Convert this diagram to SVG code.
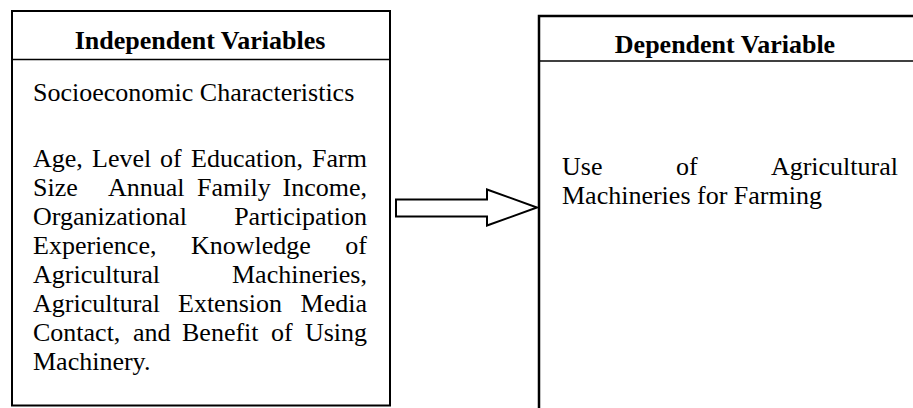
<svg xmlns="http://www.w3.org/2000/svg" width="913" height="408" viewBox="0 0 913 408">
<style>
.box{fill:#fff;stroke:#000;stroke-width:2}
.div{stroke:#000;stroke-width:1.3}
.t{font-family:"Liberation Serif","Times New Roman",serif;font-size:26px;fill:#000}
.h{font-weight:bold;text-anchor:middle}
.e{text-anchor:end}
.arrow{fill:#fff;stroke:#000;stroke-width:2;stroke-linejoin:miter}
</style>
<rect width="913" height="408" fill="#fff"/>
<g id="independent">
<rect class="box" x="12" y="11" width="378" height="394.5"/>
<line class="div" x1="12" y1="59.5" x2="390" y2="59.5"/>
<text class="t h" x="200" y="49">Independent Variables</text>
<text class="t" x="33" y="101">Socioeconomic Characteristics</text>
<text class="t" y="167"><tspan x="33">Age,</tspan><tspan x="92">Level</tspan><tspan x="160">of</tspan><tspan x="191">Education,</tspan></text>
<text class="t e" x="367" y="167">Farm</text>
<text class="t" y="196"><tspan x="33">Size</tspan><tspan x="108">Annual</tspan><tspan x="197">Family</tspan></text>
<text class="t e" x="367" y="196">Income,</text>
<text class="t" x="33" y="225">Organizational</text>
<text class="t e" x="367" y="225">Participation</text>
<text class="t" y="254"><tspan x="33">Experience,</tspan><tspan x="191">Knowledge</tspan></text>
<text class="t e" x="367" y="254">of</text>
<text class="t" x="33" y="283">Agricultural</text>
<text class="t e" x="367" y="283">Machineries,</text>
<text class="t" y="312"><tspan x="33">Agricultural</tspan><tspan x="178">Extension</tspan></text>
<text class="t e" x="367" y="312">Media</text>
<text class="t" y="341"><tspan x="33">Contact,</tspan><tspan x="133">and</tspan><tspan x="182">Benefit</tspan><tspan x="271">of</tspan></text>
<text class="t e" x="367" y="341">Using</text>
<text class="t" x="33" y="370">Machinery.</text>
</g>
<g id="dependent">
<rect class="box" x="539" y="16" width="400" height="420" style="stroke-width:2.5"/>
<line class="div" x1="539" y1="61" x2="913" y2="61"/>
<text class="t h" x="725" y="53">Dependent Variable</text>
<text class="t" y="175"><tspan x="562">Use</tspan><tspan x="676">of</tspan></text>
<text class="t e" x="898" y="175">Agricultural</text>
<text class="t" x="562" y="204">Machineries for Farming</text>
</g>
<g id="connectors">
<polygon class="arrow" points="396,199.5 487,199.5 487,189.5 537,207.5 487,225.5 487,216.5 396,216.5"/>
</g>
</svg>
